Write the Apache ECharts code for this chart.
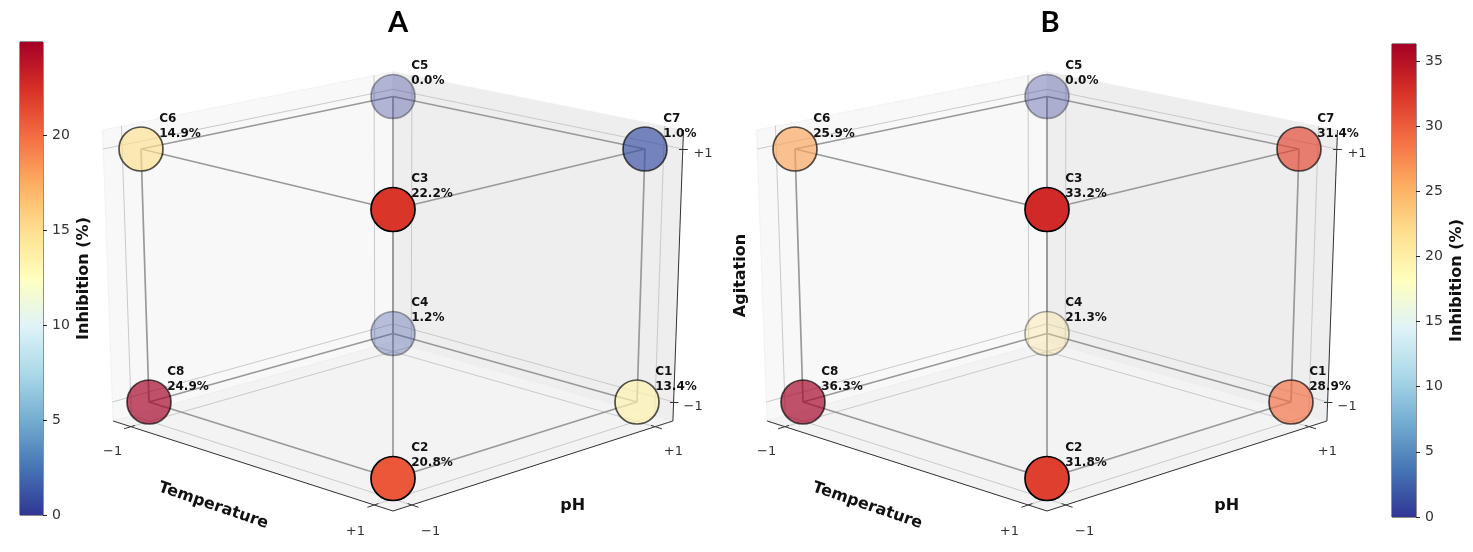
<!DOCTYPE html>
<html>
<head>
<meta charset="utf-8">
<script src="https://cdn.jsdelivr.net/npm/echarts@6/dist/echarts.min.js"></script>
<style>
  html, body { margin: 0; padding: 0; background: #fff; }
  #main { width: 1473px; height: 552px; }
</style>
</head>
<body>
<div id="main"></div>
<script>
// design points (coded levels) and measured inhibition
const runs = ['C1', 'C2', 'C3', 'C4', 'C5', 'C6', 'C7', 'C8'];
const temperature = [1, 1, 1, -1, -1, -1, 1, -1];
const ph = [1, -1, -1, 1, 1, -1, 1, -1];
const agitation = [-1, -1, 1, -1, 1, 1, 1, -1];
const inhibitionA = [13.4, 20.8, 22.2, 1.2, 0.0, 14.9, 1.0, 24.9];
const inhibitionB = [28.9, 31.8, 33.2, 21.3, 0.0, 25.9, 31.4, 36.3];
const levels = [-1, 1];
const levelLabels = ['−1', '+1'];
const cbTicksA = [0, 5, 10, 15, 20];
const cbTicksB = [0, 5, 10, 15, 20, 25, 30, 35];
const panelTitles = ['A', 'B'];

const RdYlBu_r = ['#313695', '#4575b4', '#74add1', '#abd9e9', '#e0f3f8', '#ffffbf',
  '#fee090', '#fdae61', '#f46d43', '#d73027', '#a50026'];
const paneFill = ['#f3f3f3', '#f8f8f8', '#eeeeee'];
const L = 1.15; // box limits around the coded cube

// simple fixed-view projection of (temperature, pH, agitation)
function project(t, p, a) {
  const d = t - p;
  return [(124 + 2 * a) * (t + p), -126.5 * a + (32.25 - 4 * a) * d + d * d];
}
function seg(s) {
  return { coords: s.map(q => project(q[0], q[1], q[2])) };
}

const maxA = Math.max(...inhibitionA);
const maxB = Math.max(...inhibitionB);

function panelSeries(k, values, showZLabel) {
  const ax = { xAxisIndex: k, yAxisIndex: k };
  const out = [];

  // back panes + floor
  const panes = [
    [[-L, -L, -L], [L, -L, -L], [L, L, -L], [-L, L, -L]],
    [[-L, -L, -L], [-L, L, -L], [-L, L, L], [-L, -L, L]],
    [[-L, L, -L], [L, L, -L], [L, L, L], [-L, L, L]]
  ];
  out.push({
    type: 'custom', ...ax, silent: true, z: 1,
    data: panes.map((c, i) => c.flatMap(q => project(q[0], q[1], q[2])).concat(i)),
    renderItem: (params, api) => {
      const pts = [];
      for (let i = 0; i < 4; i++) pts.push(api.coord([api.value(2 * i), api.value(2 * i + 1)]));
      return { type: 'polygon', shape: { points: pts },
        style: { fill: paneFill[api.value(8)], stroke: '#ebebeb', lineWidth: 0.6 } };
    }
  });

  // pane grid lines at the tick levels
  const gridSegs = [];
  levels.forEach(v => {
    gridSegs.push([[v, -L, -L], [v, L, -L]], [[-L, v, -L], [L, v, -L]]);
    gridSegs.push([[-L, v, -L], [-L, v, L]], [[-L, -L, v], [-L, L, v]]);
    gridSegs.push([[v, L, -L], [v, L, L]], [[-L, L, v], [L, L, v]]);
  });
  out.push({
    type: 'lines', coordinateSystem: 'cartesian2d', ...ax, silent: true, z: 2,
    data: gridSegs.map(seg),
    lineStyle: { color: '#cacaca', width: 1, opacity: 1 }
  });

  // axis lines and ticks
  const axisSegs = [
    [[-L, -L, -L], [L, -L, -L]],
    [[L, -L, -L], [L, L, -L]],
    [[L, L, -L], [L, L, L]]
  ];
  levels.forEach(v => {
    axisSegs.push([[v, -L + 0.03, -L], [v, -L - 0.06, -L]]);
    axisSegs.push([[L - 0.03, v, -L], [L + 0.06, v, -L]]);
    axisSegs.push([[L - 0.015, L - 0.015, v], [L + 0.02, L + 0.02, v]]);
  });
  out.push({
    type: 'lines', coordinateSystem: 'cartesian2d', ...ax, silent: true, z: 2,
    data: axisSegs.map(seg),
    lineStyle: { color: '#333', width: 1, opacity: 1 }
  });

  // cube edges between design points differing in one factor
  const edges = [];
  for (let i = 0; i < runs.length; i++) {
    for (let j = i + 1; j < runs.length; j++) {
      const diff = (temperature[i] !== temperature[j]) + (ph[i] !== ph[j]) + (agitation[i] !== agitation[j]);
      if (diff === 1) {
        edges.push([[temperature[i], ph[i], agitation[i]], [temperature[j], ph[j], agitation[j]]]);
      }
    }
  }
  out.push({
    type: 'lines', coordinateSystem: 'cartesian2d', ...ax, silent: true, z: 3,
    data: edges.map(seg),
    lineStyle: { color: '#999', width: 1.7, opacity: 1 }
  });

  // points
  out.push({
    type: 'scatter', ...ax, z: 5, symbolSize: 44, clip: false,
    data: runs.map((r, i) => ({
      name: r,
      value: [...project(temperature[i], ph[i], agitation[i]), values[i], temperature[i] - ph[i]]
    })),
    itemStyle: { borderColor: '#000', borderWidth: 1.7 },
    label: {
      show: true, position: [41, -15], align: 'left', verticalAlign: 'top',
      formatter: p => p.name + '\n' + p.value[2].toFixed(1) + '%',
      fontFamily: 'DejaVu Sans', fontWeight: 'bold', fontSize: 12, lineHeight: 15,
      color: '#111', opacity: 1
    },
    emphasis: { disabled: true }
  });

  // tick labels and axis titles
  const texts = [];
  levels.forEach((v, i) => {
    texts.push({ name: levelLabels[i], value: project(v, -1.31, -1.3) });
    texts.push({ name: levelLabels[i], value: project(1.31, v, -1.3) });
    texts.push({ name: levelLabels[i], value: project(1.23, 1.23, v), label: { offset: [0, 5] } });
  });
  out.push({
    type: 'scatter', ...ax, z: 4, symbolSize: 1, silent: true, clip: false,
    itemStyle: { opacity: 0 },
    data: texts,
    label: { show: true, position: 'inside', formatter: '{b}', color: '#333',
      fontFamily: 'DejaVu Sans', fontSize: 13, opacity: 1 }
  });
  const titles = [
    { name: 'Temperature', value: project(0.1, -1.58, -1.3), label: { rotate: -19 } },
    { name: 'pH', value: project(1.58, -0.1, -1.3) }
  ];
  if (showZLabel) {
    titles.push({ name: 'Agitation', value: project(-1.25, -1.25, 0), label: { rotate: 90, offset: [0, 4] } });
  }
  out.push({
    type: 'scatter', ...ax, z: 4, symbolSize: 1, silent: true, clip: false,
    itemStyle: { opacity: 0 },
    data: titles,
    label: { show: true, position: 'inside', formatter: '{b}', color: '#111',
      fontFamily: 'DejaVu Sans', fontWeight: 'bold', fontSize: 16, opacity: 1 }
  });
  return out;
}

function colorbarAxis(k, max, ticks) {
  return {
    type: 'value', gridIndex: k, min: 0, max: max, position: 'right',
    axisLine: { show: false }, splitLine: { show: false },
    axisTick: { show: true, length: 4, lineStyle: { color: '#222' }, customValues: ticks },
    axisLabel: { customValues: ticks, color: '#333', fontSize: 14, fontFamily: 'DejaVu Sans', margin: 9 },
    name: 'Inhibition (%)', nameLocation: 'middle', nameRotate: 90, nameGap: 33,
    nameTextStyle: { color: '#111', fontFamily: 'DejaVu Sans', fontWeight: 'bold', fontSize: 16 }
  };
}
function colorbarSeries(k, max) {
  return {
    type: 'bar', xAxisIndex: k, yAxisIndex: k, data: [max], barWidth: '100%', silent: true,
    itemStyle: { color: new echarts.graphic.LinearGradient(0, 1, 0, 0,
      RdYlBu_r.map((c, i) => ({ offset: i / (RdYlBu_r.length - 1), color: c }))) }
  };
}

const seriesA = panelSeries(0, inhibitionA, false);
const seriesB = panelSeries(1, inhibitionB, true);
const scatterA = seriesA.findIndex(s => s.symbolSize === 44);
const scatterB = seriesA.length + seriesB.findIndex(s => s.symbolSize === 44);
const series = seriesA.concat(seriesB, [colorbarSeries(2, maxA), colorbarSeries(3, maxB)]);

const panelAxisX = k => ({ type: 'value', gridIndex: k, min: -320, max: 330, show: false });
const panelAxisY = k => ({ type: 'value', gridIndex: k, min: -240, max: 260, inverse: true, show: false });

const chart = echarts.init(document.getElementById('main'));
chart.setOption({
  animation: false,
  backgroundColor: '#fff',
  grid: [
    { left: 73, top: 35.5, width: 650, height: 500 },
    { left: 727, top: 35.5, width: 650, height: 500 },
    { left: 20, top: 42, width: 23, height: 473, show: true, borderColor: '#222', borderWidth: 1 },
    { left: 1392, top: 44, width: 24, height: 473, show: true, borderColor: '#222', borderWidth: 1 }
  ],
  xAxis: [panelAxisX(0), panelAxisX(1),
    { type: 'category', gridIndex: 2, data: [''], show: false },
    { type: 'category', gridIndex: 3, data: [''], show: false }],
  yAxis: [panelAxisY(0), panelAxisY(1), colorbarAxis(2, maxA, cbTicksA), colorbarAxis(3, maxB, cbTicksB)],
  visualMap: [
    { type: 'continuous', show: false, seriesIndex: scatterA, dimension: 2, min: 0, max: maxA, inRange: { color: RdYlBu_r } },
    { type: 'continuous', show: false, seriesIndex: scatterB, dimension: 2, min: 0, max: maxB, inRange: { color: RdYlBu_r } },
    { type: 'continuous', show: false, seriesIndex: [scatterA, scatterB], dimension: 3, min: -2, max: 2, inRange: { opacity: [0.35, 1] } }
  ],
  graphic: panelTitles.map((t, i) => ({
    type: 'text', x: 398 + i * 652, y: 23,
    style: { text: t, font: 'bold 29px Lato', fill: '#000', align: 'center', verticalAlign: 'middle' }
  })),
  series: series
});
</script>
</body>
</html>
